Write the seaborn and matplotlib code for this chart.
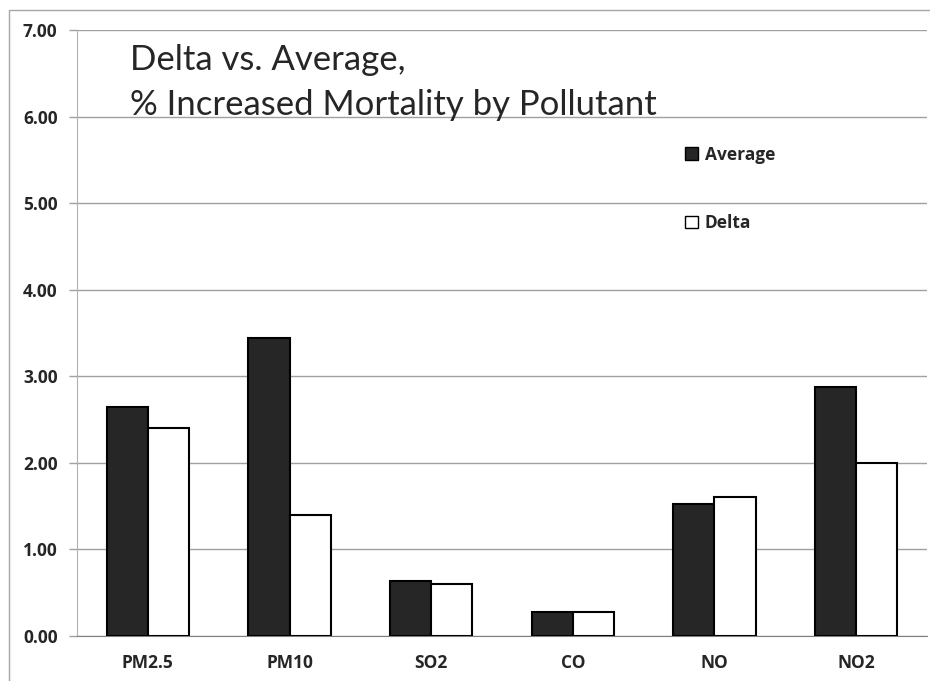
import pandas as pd
import matplotlib
matplotlib.use('Agg')
import matplotlib.pyplot as plt
import seaborn as sns
from matplotlib.patches import Rectangle, Patch

pollutants = ['PM2.5', 'PM10', 'SO2', 'CO', 'NO', 'NO2']
average = [2.65, 3.44, 0.64, 0.28, 1.52, 2.88]
delta = [2.40, 1.40, 0.60, 0.28, 1.60, 2.00]
series = ['Average', 'Delta']
y_ticks = [0, 1, 2, 3, 4, 5, 6, 7]

#Long format for seaborn
df = pd.DataFrame({
    'Pollutant': pollutants * 2,
    'Series': ['Average'] * len(pollutants) + ['Delta'] * len(pollutants),
    'Value': average + delta
})

sns.set_style('white')
plt.rcParams['font.family'] = ['Lato', 'DejaVu Sans']
bold_font = {'family': ['Open Sans', 'DejaVu Sans'], 'weight': 'bold', 'size': 12.5}

fig = plt.figure(figsize=(9.3, 6.81), dpi=100)
ax = fig.add_axes([77 / 930, 1 - 636 / 681, 850 / 930, 606 / 681])

#Outer chart border
fig.patches.append(Rectangle((9 / 930, -0.1), 1.2, 1 - 10 / 681 + 0.1, transform=fig.transFigure,
                             fill=False, edgecolor='#a6a6a6', linewidth=1, zorder=0))

sns.barplot(data=df, x='Pollutant', y='Value', hue='Series', order=pollutants, hue_order=series,
            palette={'Average': '#262626', 'Delta': 'white'}, edgecolor='black', linewidth=1.5,
            width=0.58, errorbar=None, legend=False, ax=ax, zorder=3)

ax.set_ylim(0, 7)
ax.set_xlim(-0.5, 5.5)
ax.set_yticks(y_ticks)
ax.set_yticklabels([f'{v:.2f}' for v in y_ticks], fontdict=bold_font)
ax.set_xticks(range(len(pollutants)))
ax.set_xticklabels(pollutants, fontdict=bold_font)
ax.set_xticks([i - 0.5 for i in range(len(pollutants) + 1)], minor=True)
ax.tick_params(axis='x', which='major', length=0, pad=13)
ax.tick_params(axis='x', which='minor', direction='out', length=6, color='#a0a0a0', width=1)
ax.tick_params(axis='y', direction='out', length=6, color='#a0a0a0', width=1, pad=8, left=True)
ax.set_xlabel('')
ax.set_ylabel('')
ax.yaxis.grid(True, color='#a0a0a0', linewidth=1)
ax.set_axisbelow(True)
for s in ['top', 'right']:
    ax.spines[s].set_visible(False)
ax.spines['left'].set_color('#b0b0b0')
ax.spines['bottom'].set_color('#808080')

#Title inside plot
ax.text(130 / 930, 1 - 60 / 681, 'Delta vs. Average,', transform=fig.transFigure,
        fontsize=25, va='center', ha='left')
ax.text(130 / 930, 1 - 105 / 681, '% Increased Mortality by Pollutant', transform=fig.transFigure,
        fontsize=25, va='center', ha='left')

handles = [Patch(facecolor='#262626', edgecolor='black', label='Average'),
           Patch(facecolor='white', edgecolor='black', label='Delta')]
leg = ax.legend(handles=handles, loc='upper left', bbox_to_anchor=(669 / 930, 1 - 130 / 681),
                bbox_transform=fig.transFigure, frameon=False, handlelength=0.75, handleheight=0.75,
                handletextpad=0.4, labelspacing=2.9, prop=bold_font)

fig.savefig('out.png', dpi=100)
